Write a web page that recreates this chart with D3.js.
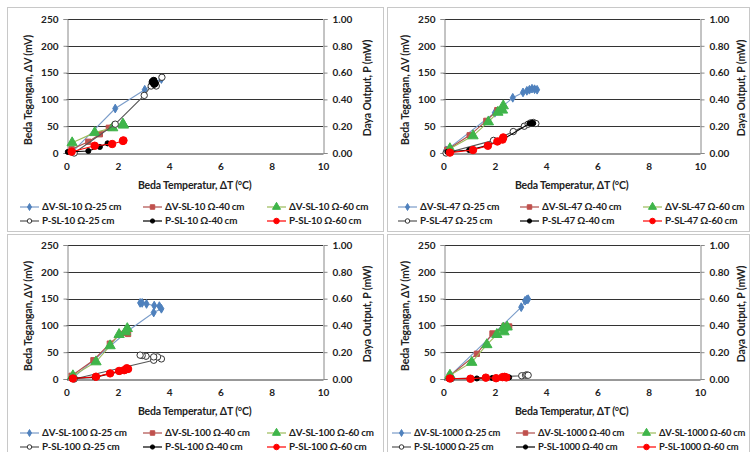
<!DOCTYPE html>
<html><head><meta charset="utf-8">
<script src="https://cdn.jsdelivr.net/npm/d3@7"></script>
<style>
html,body{margin:0;padding:0;background:#fff;}
svg text{font-family:Lato,"Open Sans",sans-serif;font-weight:bold;fill:#222;}
</style></head>
<body><svg id="c" width="750" height="452"></svg>
<script>
// Tick labels
const xTicks = [0, 2, 4, 6, 8, 10];
const vTicks = [0, 50, 100, 150, 200, 250];
const pTicks = ["0.00", "0.20", "0.40", "0.60", "0.80", "1.00"];
const panelNames = ["10", "47", "100", "1000"];
const lengths = ["25", "40", "60"];

// SL-10 Ω : [ΔT (°C), ΔV (mV)] and [ΔT, P (mW)]
const sl10_dV25 = [[0.25,3],[1.9,83],[3.05,118],[3.35,128],[3.45,132],[3.7,138]];
const sl10_dV40 = [[0.2,7],[0.85,21],[1.3,35],[1.65,47],[1.8,48]];
const sl10_dV60 = [[0.22,19],[1.1,38],[1.8,47],[2.2,54],[2.22,52]];
const sl10_P25 = [[0.3,0.0],[1.9,0.215],[3.03,0.43],[3.3,0.5],[3.45,0.51],[3.5,0.5],[3.72,0.565]];
const sl10_P40 = [[0.05,0.008],[0.85,0.015],[1.3,0.045],[1.6,0.072]];
const sl10_P40b = [[3.35,0.53],[3.4,0.54],[3.42,0.515],[3.45,0.52]];
const sl10_P60 = [[0.2,0.01],[1.1,0.054],[1.78,0.067],[2.2,0.09],[2.22,0.094]];

// SL-47 Ω
const sl47_dV25 = [[0.1,5],[2.0,75],[2.7,103],[3.1,113],[3.25,116],[3.35,118],[3.45,120],[3.55,119],[3.65,118]];
const sl47_dV40 = [[0.15,6],[1.02,33],[1.67,60],[2.1,80],[2.3,82]];
const sl47_dV60 = [[0.25,8],[1.15,32],[1.75,58],[2.12,76],[2.3,80],[2.33,88]];
const sl47_P25 = [[0.1,0.0],[1.95,0.094],[2.72,0.16],[3.15,0.2],[3.3,0.215],[3.4,0.225],[3.5,0.228],[3.6,0.22]];
const sl47_P40 = [[0.15,0.008],[1.0,0.022],[1.7,0.055],[2.3,0.1],[3.35,0.22],[3.45,0.225],[3.5,0.222]];
const sl47_P60 = [[0.25,0.003],[1.15,0.022],[1.73,0.054],[2.1,0.086],[2.3,0.1],[2.33,0.116]];

// SL-100 Ω
const sl100_dV25 = [[0.3,4],[2.4,90],[3.4,124],[3.7,131],[3.62,136],[3.42,137],[3.12,140],[2.95,142],[2.87,142]];
const sl100_dV40 = [[0.2,6],[1.05,35],[1.69,66],[2.1,84],[2.3,86],[2.4,84]];
const sl100_dV60 = [[0.25,6],[1.15,32],[1.7,62],[2.05,83],[2.3,88],[2.37,94]];
const sl100_P25 = [[0.3,0.0],[3.4,0.14],[3.7,0.15],[3.55,0.165],[3.4,0.165],[3.1,0.17],[2.95,0.175],[2.87,0.178]];
const sl100_P40 = [[0.2,0.005],[1.1,0.012],[1.7,0.04],[2.1,0.056],[2.35,0.065],[2.4,0.07]];
const sl100_P60 = [[0.25,0.004],[1.15,0.017],[1.7,0.042],[2.05,0.06],[2.25,0.066],[2.35,0.08],[2.4,0.075]];

// SL-1000 Ω
const sl1000_dV25 = [[0.25,6],[3.03,134],[3.18,146],[3.25,148],[3.3,149]];
const sl1000_dV40 = [[0.25,6],[1.3,47],[1.91,85],[2.38,99],[2.56,98]];
const sl1000_dV60 = [[0.25,7],[1.1,31],[1.69,64],[2.08,83],[2.33,95],[2.36,88],[2.48,97]];
const sl1000_P25 = [[0.3,0.002],[3.05,0.024],[3.2,0.028],[3.25,0.03],[3.3,0.028]];
const sl1000_P40 = [[0.2,0.002],[1.3,0.004],[1.9,0.008],[2.38,0.012],[2.56,0.012]];
const sl1000_P60 = [[0.25,0.004],[1.05,0.002],[1.65,0.01],[2.05,0.006],[2.3,0.014],[2.38,0.016],[2.45,0.012]];

const panelData = [
  {dV:[sl10_dV25, sl10_dV40, sl10_dV60], P:[sl10_P25, sl10_P40, sl10_P60], extraP40: sl10_P40b},
  {dV:[sl47_dV25, sl47_dV40, sl47_dV60], P:[sl47_P25, sl47_P40, sl47_P60]},
  {dV:[sl100_dV25, sl100_dV40, sl100_dV60], P:[sl100_P25, sl100_P40, sl100_P60]},
  {dV:[sl1000_dV25, sl1000_dV40, sl1000_dV60], P:[sl1000_P25, sl1000_P40, sl1000_P60]}
];

// styles
const dVStyles = [
  {line:"#7a9cc9", fill:"#4F81BD", stroke:"#4F81BD", sym:d3.symbolDiamond, size:22, lsize:14},
  {line:"#b04e4a", fill:"#C0504D", stroke:"#C0504D", sym:d3.symbolSquare, size:28, lsize:20},
  {line:"#9BBB59", fill:"#3fb54a", stroke:"#3fb54a", sym:d3.symbolTriangle, size:46, lsize:28}
];
const PStyles = [
  {line:"#555", fill:"#fff", stroke:"#333", sym:d3.symbolCircle, size:32, lsize:16},
  {line:"#000", fill:"#000", stroke:"#000", sym:d3.symbolCircle, size:20, lsize:14},
  {line:"#ff0000", fill:"#ff0000", stroke:"#ff0000", sym:d3.symbolCircle, size:44, lsize:24}
];

const svg = d3.select("#c");
const offsets = [[0,0],[377,0],[0,226],[377,226]];
const frames = [[7,7,376,224],[387,7,362,224],[7,234,376,230],[387,234,362,230]];
const legendCols = [[20,143,267],[21,143,266],[20,143,267],[15,139,260]];
const legendFont = [9.8, 9.8, 9.8, 9.4];

frames.forEach(f=>{
  svg.append("rect").attr("x",f[0]+0.5).attr("y",f[1]+0.5).attr("width",f[2]).attr("height",f[3])
    .attr("fill","none").attr("stroke","#c8c8c8").attr("stroke-width",1);
});

panelData.forEach((pd, i)=>{
  const [ox, oy] = offsets[i];
  const g = svg.append("g").attr("transform",`translate(${ox},${oy})`);
  const x = d3.scaleLinear().domain([0,10]).range([66.5,323]);
  const yV = d3.scaleLinear().domain([0,250]).range([153,19]);
  const yP = d3.scaleLinear().domain([0,1]).range([153,19]);

  // gridlines
  g.append("g").selectAll("line").data(vTicks.slice(1)).join("line")
    .attr("x1",x(0)).attr("x2",x(10)).attr("y1",d=>Math.round(yV(d))+0.5).attr("y2",d=>Math.round(yV(d))+0.5)
    .attr("stroke","#333").attr("stroke-width",1);

  // left axis
  const la = g.append("g").attr("transform",`translate(${Math.round(x(0))+0.5},0)`)
    .call(d3.axisLeft(yV).tickValues(vTicks).tickSize(4).tickPadding(5));
  la.select(".domain").attr("stroke","#888");
  la.selectAll(".tick line").attr("stroke","#888");
  la.selectAll("text").attr("font-size",10).attr("fill","#222");

  // right axis
  const ra = g.append("g").attr("transform",`translate(${Math.round(x(10))+0.5},0)`)
    .call(d3.axisRight(yP).tickValues(pTicks.map(Number)).tickFormat((d,k)=>pTicks[k]).tickSize(4).tickPadding(5));
  ra.select(".domain").attr("stroke","#888");
  ra.selectAll(".tick line").attr("stroke","#888");
  ra.selectAll("text").attr("font-size",10).attr("fill","#222");

  // bottom axis
  const ba = g.append("g").attr("transform",`translate(0,${Math.round(yV(0))+0.5})`)
    .call(d3.axisBottom(x).tickValues(xTicks).tickSize(0).tickPadding(9));
  ba.select(".domain").attr("stroke","#333");
  ba.selectAll("text").attr("font-size",10).attr("fill","#222");

  // titles
  g.append("text").attr("x",(x(0)+x(10))/2).attr("y",189).attr("text-anchor","middle")
    .attr("font-size",10.5).attr("letter-spacing",-0.15).text("Beda Temperatur, \u0394T (\u00B0C)");
  g.append("text").attr("transform",`translate(32,${(yV(0)+yV(250))/2+4}) rotate(-90)`).attr("text-anchor","middle")
    .attr("font-size",10.5).attr("letter-spacing",-0.15).text("Beda Tegangan, \u0394V (mV)");
  g.append("text").attr("transform",`translate(${i%2===0?371:368},${(yV(0)+yV(250))/2+2}) rotate(-90)`).attr("text-anchor","middle")
    .attr("font-size",10.5).attr("letter-spacing",-0.15).text("Daya Output,  P (mW)");

  const lineV = d3.line().x(d=>x(d[0])).y(d=>yV(d[1]));
  const lineP = d3.line().x(d=>x(d[0])).y(d=>yP(d[1]));

  const drawSeries = (data, st, ln, ysc) => {
    g.append("path").attr("d", ln(data)).attr("fill","none").attr("stroke",st.line).attr("stroke-width",1.1);
    g.append("g").selectAll("path").data(data).join("path")
      .attr("transform",d=>`translate(${x(d[0])},${ysc(d[1])})`)
      .attr("d", d3.symbol().type(st.sym).size(st.size)())
      .attr("fill",st.fill).attr("stroke",st.stroke).attr("stroke-width",1);
  };
  pd.dV.forEach((s,k)=>drawSeries(s, dVStyles[k], lineV, yV));
  pd.P.forEach((s,k)=>drawSeries(s, PStyles[k], lineP, yP));
  if (pd.extraP40) {
    g.append("g").selectAll("path").data(pd.extraP40).join("path")
      .attr("transform",d=>`translate(${x(d[0])},${yP(d[1])})`)
      .attr("d", d3.symbol().type(d3.symbolCircle).size(36)())
      .attr("fill","#000").attr("stroke","#000");
  }

  // legend
  const colX = legendCols[i];
  const rowY = [207,221];
  const name = panelNames[i];
  [0,1].forEach(r=>{
    lengths.forEach((L,k)=>{
      const st = r===0 ? dVStyles[k] : PStyles[k];
      const cx = colX[k];
      const cy = rowY[r];
      g.append("line").attr("x1",cx).attr("x2",cx+19).attr("y1",cy).attr("y2",cy)
        .attr("stroke",st.line).attr("stroke-width",1.2);
      g.append("path").attr("transform",`translate(${cx+9.5},${cy})`)
        .attr("d",d3.symbol().type(st.sym).size(st.lsize)())
        .attr("fill",st.fill).attr("stroke",st.stroke);
      const label = (r===0 ? "\u0394V-SL-" : "P-SL-") + name + " \u03A9-" + L + " cm";
      g.append("text").attr("x",cx+22).attr("y",cy+3.4).attr("font-size",legendFont[i]).attr("letter-spacing",-0.2).text(label);
    });
  });
});
</script></body></html>
